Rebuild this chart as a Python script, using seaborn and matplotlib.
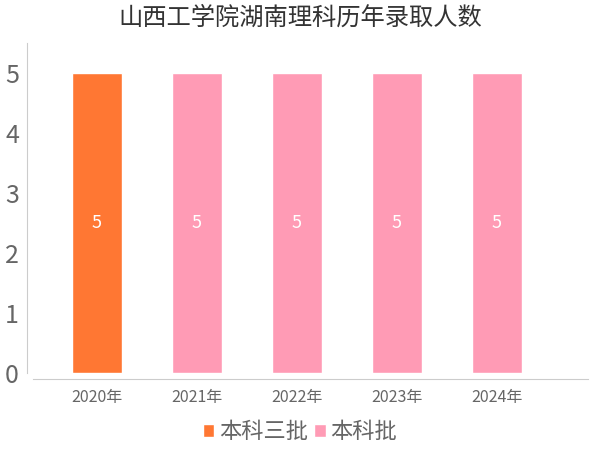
import pandas as pd
import seaborn as sns
import matplotlib.pyplot as plt

years = ['2020年', '2021年', '2022年', '2023年', '2024年']
counts = [5, 5, 5, 5, 5]
batches = ['本科三批', '本科批', '本科批', '本科批', '本科批']

df = pd.DataFrame({'年份': years, '人数': counts, '批次': batches})

sns.set_style("white")
plt.rcParams['font.family'] = ['Noto Sans CJK SC', 'DejaVu Sans']

gray = '#666666'
palette = {'本科三批': '#FF7733', '本科批': '#FF9BB5'}

fig = plt.figure(figsize=(6, 4.5), dpi=100)
ax = fig.add_axes([0.055, 0.171, 0.925, 0.733])
sns.barplot(df, x='年份', y='人数', hue='批次', palette=palette,
            dodge=False, width=0.5, saturation=1, ax=ax)

for container in ax.containers:
    ax.bar_label(container, label_type='center', color='white', fontsize=13)

ax.set_ylim(0, 5.5)
ax.set_xlim(-0.64, 4.91)
ax.set_yticks(range(6))
ax.set_xlabel('')
ax.set_ylabel('')
ax.tick_params(axis='y', labelsize=18, colors='#cccccc', length=4, width=0.8, labelcolor=gray, pad=2)
ax.tick_params(axis='x', labelsize=11.5, length=4, width=0.8, colors='#cccccc', labelcolor=gray)
for s in ['top', 'right']:
    ax.spines[s].set_visible(False)
ax.spines['left'].set_color('#cccccc')
ax.spines['bottom'].set_color('#cccccc')
ax.spines['left'].set_position(('outward', 4))
ax.spines['bottom'].set_position(('outward', 4))

fig.suptitle('山西工学院湖南理科历年录取人数', fontsize=17.5, color='#333333', y=0.99)
handles, labels = ax.get_legend_handles_labels()
ax.get_legend().remove()
leg = fig.legend(handles, labels, loc='center', bbox_to_anchor=(0.5, 0.04), ncol=2, frameon=False,
                 fontsize=16, handlelength=0.5, handleheight=0.5, handletextpad=0.2,
                 columnspacing=0.3)
for t in leg.get_texts():
    t.set_color(gray)

fig.savefig('out.png', dpi=100)
